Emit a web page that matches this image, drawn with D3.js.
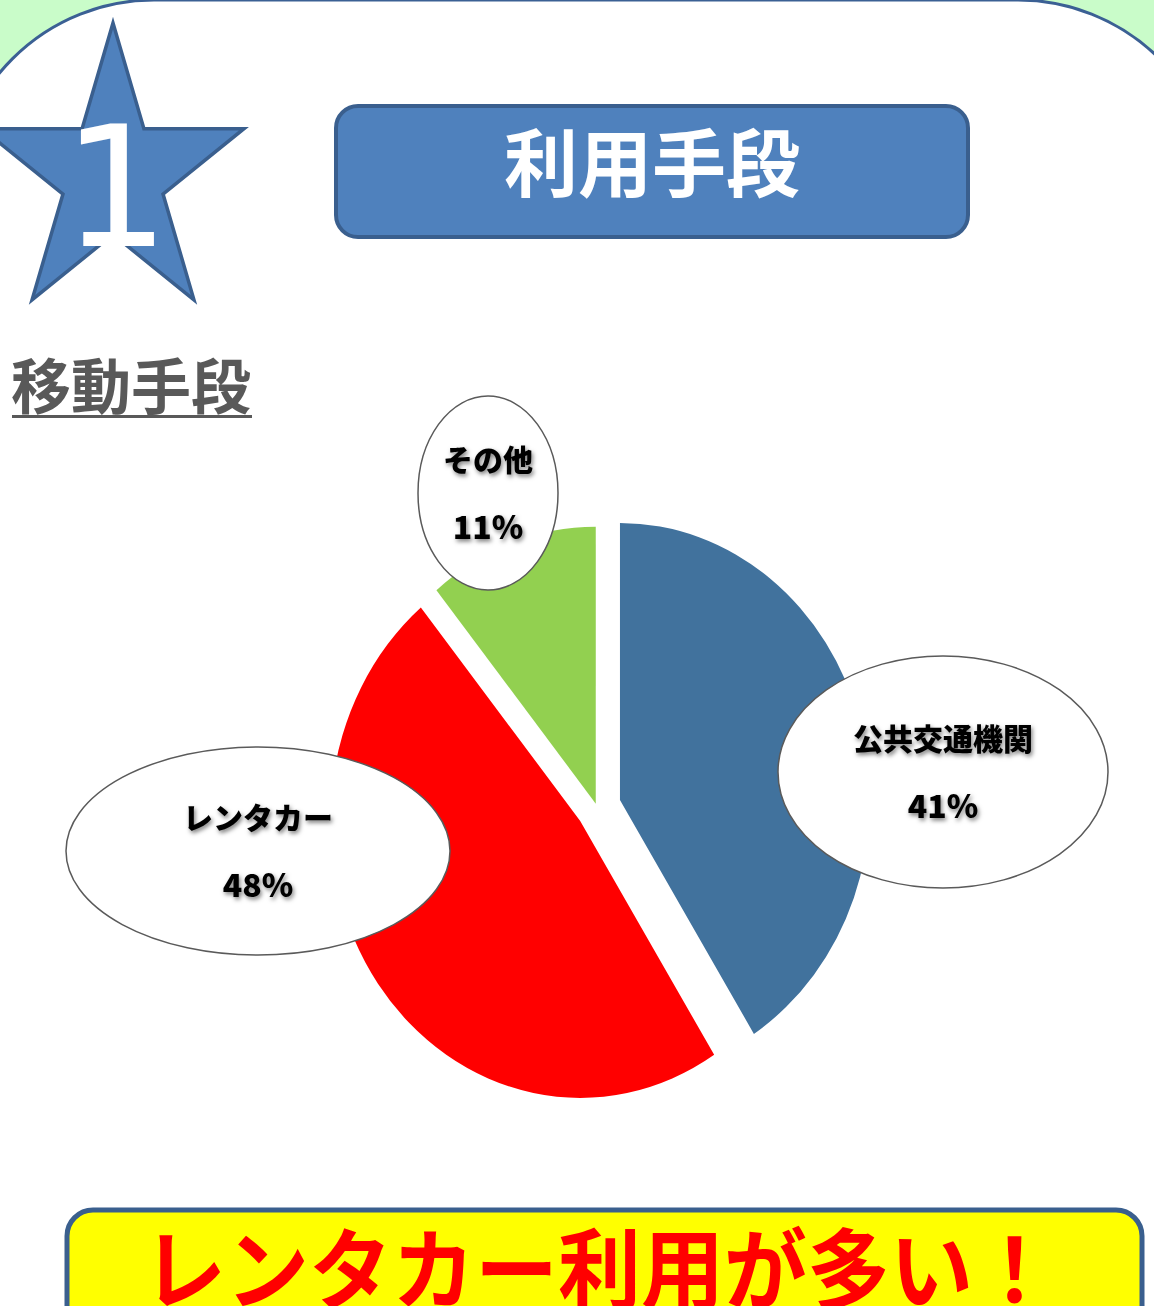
<!DOCTYPE html>
<html>
<head>
<meta charset="utf-8">
<script src="https://cdn.jsdelivr.net/npm/d3@7"></script>
<style>
  html, body { margin: 0; padding: 0; background: #c9fcc9; overflow: hidden; }
  svg { display: block; }
  text { font-family: "Noto Sans CJK JP", "Noto Sans", sans-serif; }
</style>
</head>
<body>
<figure id="pie" style="margin:0"></figure>
<script>
// data
const categories = ["公共交通機関", "レンタカー", "その他"];
const values = [41, 48, 11];
const colors = ["#41729d", "#ff0000", "#92d050"];
const title = "利用手段";
const subtitle = "移動手段";
const conclusion = "レンタカー利用が多い！";
const badge = "1";

// layout
const width = 1154, height = 1306;
const pieCenter = [597, 807.4];
const radiusX = 250, radiusY = 277;
const explode = [26.5, 23, 4];
// callout ellipses: [cx, cy, rx, ry]
const callouts = [
  [943, 772, 165, 116],
  [258, 851, 192, 104],
  [488, 493, 70, 97]
];

const svg = d3.select("figure#pie")
  .append("svg")
  .attr("width", width)
  .attr("height", height);

const defs = svg.append("defs");
const shadow = defs.append("filter").attr("id", "txtShadow")
  .attr("x", "-10%").attr("y", "-20%").attr("width", "130%").attr("height", "160%");
shadow.append("feDropShadow")
  .attr("dx", 1.5).attr("dy", 2.5).attr("stdDeviation", 2)
  .attr("flood-color", "#000").attr("flood-opacity", 0.5);

// big white panel with rounded corners
svg.append("rect")
  .attr("x", -46).attr("y", 0)
  .attr("width", 1264).attr("height", 2000)
  .attr("rx", 200).attr("ry", 200)
  .attr("fill", "#fff")
  .attr("stroke", "#3b6094")
  .attr("stroke-width", 3);

// star badge
const starR = 153, starCx = 113, starCy = 176;
const starPts = d3.range(10).map(i => {
  const a = i * Math.PI / 5;
  const r = i % 2 === 0 ? starR : starR * 0.382;
  return [starCx + 0.9 * r * Math.sin(a), starCy - r * Math.cos(a)];
});
svg.append("path")
  .attr("d", d3.line()(starPts) + "Z")
  .attr("fill", "#4f81bd")
  .attr("stroke", "#3a5f8e")
  .attr("stroke-width", 3.5)
  .attr("stroke-linejoin", "miter");
svg.append("text")
  .attr("x", 116).attr("y", 246)
  .attr("text-anchor", "middle")
  .style("font-family", "'DejaVu Sans', sans-serif")
  .style("font-size", "168px")
  .style("font-weight", 400)
  .attr("fill", "#fff")
  .text(badge);

// title box
svg.append("rect")
  .attr("x", 336).attr("y", 106)
  .attr("width", 632).attr("height", 131)
  .attr("rx", 22)
  .attr("fill", "#4f81bd")
  .attr("stroke", "#3a5f8e")
  .attr("stroke-width", 4);
svg.append("text")
  .attr("x", 652).attr("y", 158)
  .attr("text-anchor", "middle")
  .attr("dominant-baseline", "central")
  .style("font-size", "74px")
  .style("font-weight", 700)
  .attr("fill", "#fff")
  .text(title);

// subtitle
svg.append("text")
  .attr("x", 11).attr("y", 382)
  .attr("dominant-baseline", "central")
  .style("font-size", "60px")
  .style("font-weight", 700)
  .attr("fill", "#595959")
  .text(subtitle);
svg.append("rect")
  .attr("x", 12).attr("y", 415)
  .attr("width", 240).attr("height", 3)
  .attr("fill", "#595959");

// pie
const pie = d3.pie().sort(null).value(d => d);
const arcs = pie(values);
const arc = d3.arc().innerRadius(0).outerRadius(radiusY);

const gPie = svg.append("g")
  .attr("transform", "translate(" + pieCenter[0] + "," + pieCenter[1] + ") scale(" + (radiusX / radiusY) + ",1)");

gPie.selectAll("slices")
  .data(arcs)
  .enter()
  .append("path")
  .attr("transform", (d, i) => {
    const mid = (d.startAngle + d.endAngle) / 2;
    return "translate(" + (explode[i] * Math.sin(mid)) + "," + (-explode[i] * Math.cos(mid)) + ")";
  })
  .attr("d", arc)
  .attr("fill", (d, i) => colors[i]);

// callouts
const gLab = svg.append("g");
arcs.forEach((d, i) => {
  const [cx, cy, rx, ry] = callouts[i];
  gLab.append("ellipse")
    .attr("cx", cx).attr("cy", cy)
    .attr("rx", rx).attr("ry", ry)
    .attr("fill", "#fff")
    .attr("stroke", "#5a5a5a")
    .attr("stroke-width", 1.5);
  gLab.append("text")
    .attr("x", cx).attr("y", cy - 35)
    .attr("text-anchor", "middle")
    .attr("dominant-baseline", "central")
    .style("font-size", "30px")
    .style("font-weight", 900)
    .attr("fill", "#000")
    .attr("filter", "url(#txtShadow)")
    .text(categories[i]);
  gLab.append("text")
    .attr("x", cx).attr("y", cy + 32)
    .attr("text-anchor", "middle")
    .attr("dominant-baseline", "central")
    .style("font-size", "32px")
    .style("font-weight", 900)
    .attr("fill", "#000")
    .attr("filter", "url(#txtShadow)")
    .text(d3.format(".0%")(d.value / d3.sum(values)));
});

// conclusion box
svg.append("rect")
  .attr("x", 67).attr("y", 1210)
  .attr("width", 1075).attr("height", 200)
  .attr("rx", 26)
  .attr("fill", "#ffff00")
  .attr("stroke", "#3a5f8e")
  .attr("stroke-width", 5);
svg.append("text")
  .attr("x", 143).attr("y", 1263)
  .attr("dominant-baseline", "central")
  .attr("textLength", 913)
  .attr("lengthAdjust", "spacingAndGlyphs")
  .style("font-size", "88px")
  .style("font-weight", 700)
  .attr("fill", "#ff0000")
  .text(conclusion);
</script>
</body>
</html>
